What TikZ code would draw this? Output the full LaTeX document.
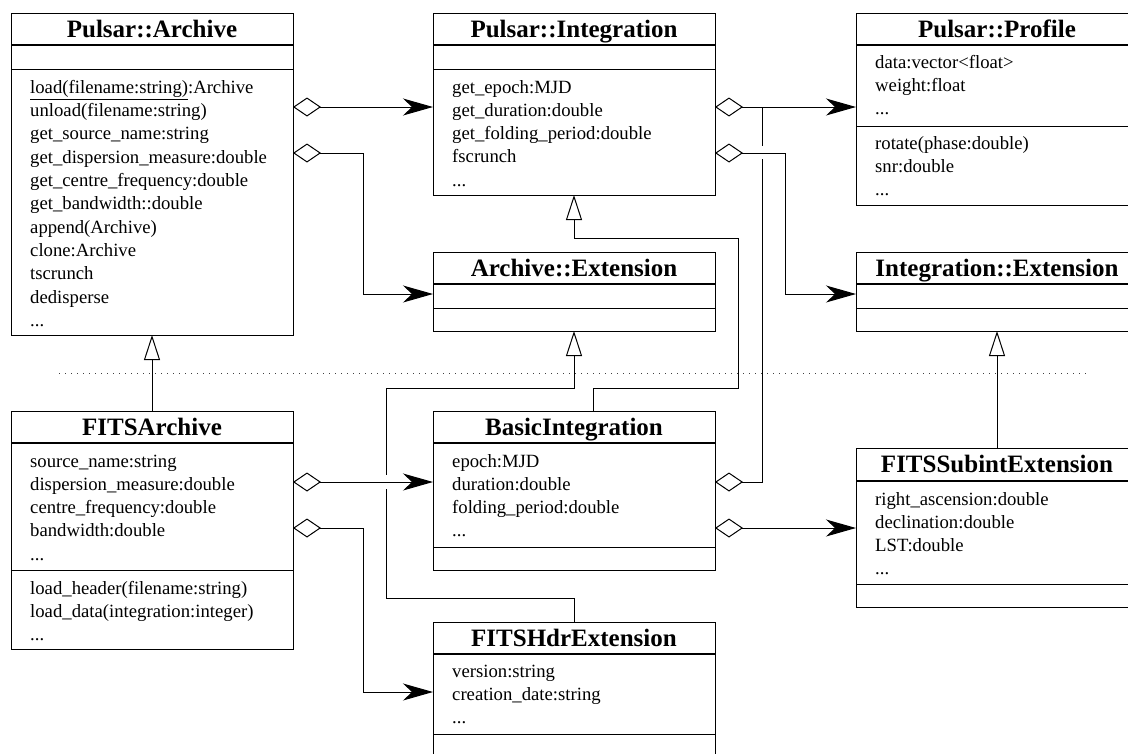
\documentclass[tikz,border=0pt]{standalone}
\usepackage{fontspec}
\setmainfont{Liberation Serif}
\usetikzlibrary{arrows.meta,calc}
\newcommand\ttlfont{\fontsize{25}{30}\selectfont\bfseries}
\newcommand\txtfont{\fontsize{18.7}{23}\selectfont}
\newcommand\tdots{...}
\tikzset{
  box/.style={draw, line width=1pt, anchor=north west, minimum width=282pt, inner sep=0pt, outer sep=0pt},
  ttl/.style={anchor=base, font=\ttlfont, inner sep=0pt},
  txt/.style={anchor=base west, font=\txtfont, inner sep=0pt},
  sepline/.style={line width=1pt},
  tsepline/.style={line width=2.6pt},
  agg/.style={line width=1pt, {Diamond[open,length=28pt,width=19pt]}-{Stealth[length=30pt,width=17pt,inset=9pt]}},
  aggn/.style={line width=1pt, {Diamond[open,length=28pt,width=19pt]}-},
  gen/.style={line width=1pt, -{Triangle[open,length=25pt,width=16pt]}},
}
\newcommand\hsep[3]{\draw[#3] ($(#1.north west)+(0,#2)$) -- ($(#1.north east)+(0,#2)$);}
\newcommand\clslines[4]{%
  \foreach \t [count=\i from 0] in {#4} {\node[txt] (#1-#3\i) at ($(#1.north west)+(19,{#2+\i*23.3})$) {\t};}%
}
\begin{document}
\begin{tikzpicture}[x=1pt,y=-1pt]
\useasboundingbox (0,0) rectangle (1128,753);
\clip (0,0) rectangle (1128,753);

% ---------- classes ----------
\node[box, minimum height=322pt] (arch) at (11,13) {};
\node[ttl] (arch-t) at ($(arch.north)+(0,24)$) {Pulsar::Archive};
\hsep{arch}{32}{tsepline}
\hsep{arch}{56}{sepline}
\clslines{arch}{80.3}{m}{\underline{load(filename:string)}:Archive, unload(filename:string), get\_source\_name:string, get\_dispersion\_measure:double, get\_centre\_frequency:double, get\_bandwidth::double, append(Archive), clone:Archive, tscrunch, dedisperse, \tdots}

\node[box, minimum height=182pt] (integ) at (433,13) {};
\node[ttl] (integ-t) at ($(integ.north)+(0,24)$) {Pulsar::Integration};
\hsep{integ}{32}{tsepline}
\hsep{integ}{56}{sepline}
\clslines{integ}{80}{m}{get\_epoch:MJD, get\_duration:double, get\_folding\_period:double, fscrunch, \tdots}

\node[box, minimum height=192pt] (prof) at (856,13) {};
\node[ttl] (prof-t) at ($(prof.north)+(0,24)$) {Pulsar::Profile};
\hsep{prof}{32}{tsepline}
\hsep{prof}{113}{sepline}
\clslines{prof}{55}{a}{data:vector<float>, weight:float, \tdots}
\clslines{prof}{136}{m}{rotate(phase:double), snr:double, \tdots}

\node[box, minimum height=79pt] (aext) at (433,252) {};
\node[ttl] (aext-t) at ($(aext.north)+(0,24)$) {Archive::Extension};
\hsep{aext}{32}{tsepline}
\hsep{aext}{56}{sepline}

\node[box, minimum height=79pt] (iext) at (856,252) {};
\node[ttl] (iext-t) at ($(iext.north)+(0,24)$) {Integration::Extension};
\hsep{iext}{32}{tsepline}
\hsep{iext}{56}{sepline}

\node[box, minimum height=238pt] (farch) at (11,411) {};
\node[ttl] (farch-t) at ($(farch.north)+(0,24)$) {FITSArchive};
\hsep{farch}{32}{tsepline}
\hsep{farch}{159}{sepline}
\clslines{farch}{56}{a}{source\_name:string, dispersion\_measure:double, centre\_frequency:double, bandwidth:double, \tdots}
\clslines{farch}{183}{m}{load\_header(filename:string), load\_data(integration:integer), \tdots}

\node[box, minimum height=159pt] (bint) at (433,411) {};
\node[ttl] (bint-t) at ($(bint.north)+(0,24)$) {BasicIntegration};
\hsep{bint}{32}{tsepline}
\hsep{bint}{136}{sepline}
\clslines{bint}{56}{a}{epoch:MJD, duration:double, folding\_period:double, \tdots}

\node[box, minimum height=159pt] (fsub) at (856,448) {};
\node[ttl] (fsub-t) at ($(fsub.north)+(0,24)$) {FITSSubintExtension};
\hsep{fsub}{33}{tsepline}
\hsep{fsub}{136}{sepline}
\clslines{fsub}{57}{a}{right\_ascension:double, declination:double, LST:double, \tdots}

\node[box, minimum height=160pt] (fhdr) at (433,622) {};
\node[ttl] (fhdr-t) at ($(fhdr.north)+(0,24)$) {FITSHdrExtension};
\hsep{fhdr}{32}{tsepline}
\hsep{fhdr}{112}{sepline}
\clslines{fhdr}{55}{a}{version:string, creation\_date:string, \tdots}

% ---------- dotted separator ----------
\draw[line width=1pt, black!75, dash pattern=on 1pt off 5pt] (59,373) -- (1087,373);

% ---------- generalizations ----------
\draw[gen] (farch.north) -- (arch.south);
\draw[gen] ($(bint.north)+(19,0)$) |- ($(bint.north)+(164,-23)$) |- ($(integ.south)+(0,43)$) -- (integ.south);
\draw[gen] (fhdr.north) |- ($(fhdr.north)+(-188,-24)$) |- ($(aext.south)+(0,57)$) -- (aext.south);
\draw[gen] (fsub.north) -- (iext.south);

% ---------- aggregations ----------
\draw[agg] ($(arch.north east)+(0,94)$) -- ($(integ.north west)+(0,94)$);
\draw[agg] ($(arch.north east)+(0,140)$) -| ($(aext.north west)+(-70,42)$) -- ($(aext.north west)+(0,42)$);
\draw[agg] ($(integ.north east)+(0,94)$) -- ($(prof.north west)+(0,94)$);
\draw[aggn] ($(bint.north east)+(0,71)$) -| ($(integ.north east)+(47,94)$);
\fill[white] (758,146) rectangle (766,159);
\draw[agg] ($(integ.north east)+(0,140)$) -| ($(iext.north west)+(-71,42)$) -- ($(iext.north west)+(0,42)$);
\draw[agg] ($(bint.north east)+(0,117)$) -- ($(fsub.north west)+(0,80)$);
\fill[white] (382,475) rectangle (390,489);
\draw[agg] ($(farch.north east)+(0,71)$) -- ($(bint.north west)+(0,71)$);
\draw[agg] ($(farch.north east)+(0,117)$) -| ($(fhdr.north west)+(-70,70)$) -- ($(fhdr.north west)+(0,70)$);
\end{tikzpicture}
\end{document}
